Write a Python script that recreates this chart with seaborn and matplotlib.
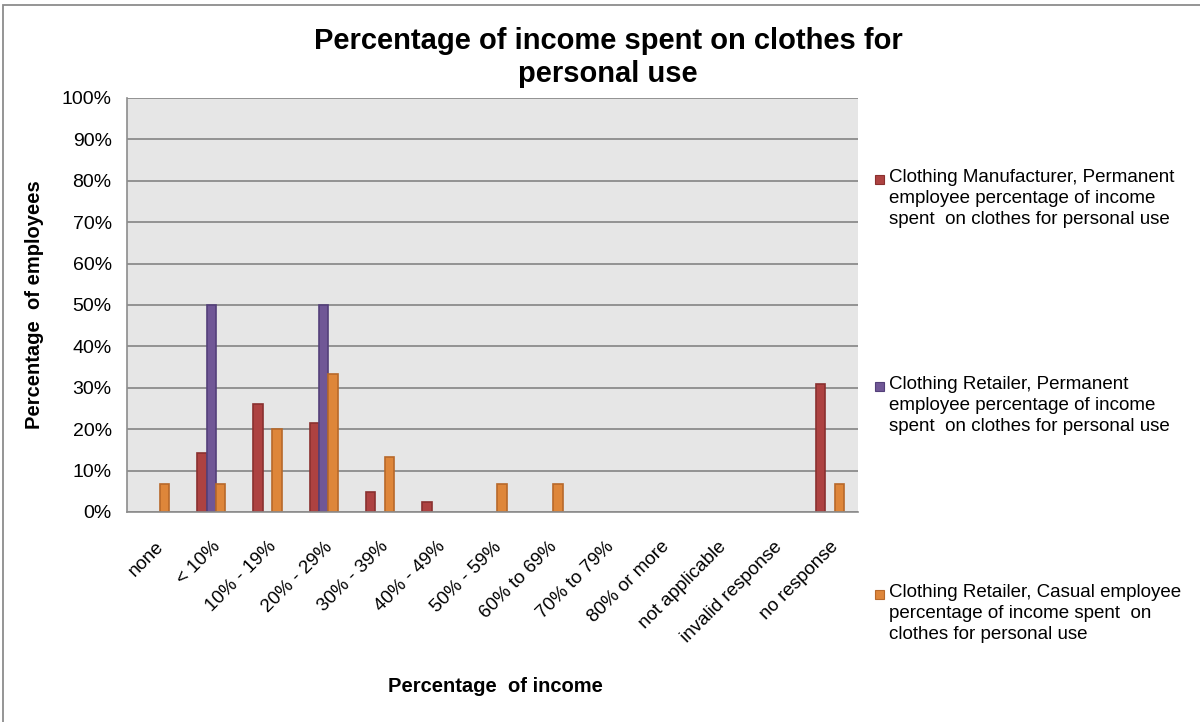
import numpy as np
import pandas as pd
import seaborn as sns
import matplotlib.pyplot as plt
import matplotlib.transforms as mtransforms
from matplotlib.patches import Rectangle

# ---- data -------------------------------------------------------------
categories = ["none", "< 10%", "10% - 19%", "20% - 29%", "30% - 39%",
              "40% - 49%", "50% - 59%", "60% to 69%", "70% to 79%",
              "80% or more", "not applicable", "invalid response", "no response"]

manufacturer_permanent = [0, 14.3, 26.2, 21.4, 4.8, 2.4, 0, 0, 0, 0, 0, 0, 31.0]
retailer_permanent = [0, 50.0, 0, 50.0, 0, 0, 0, 0, 0, 0, 0, 0, 0]
retailer_casual = [6.7, 6.7, 20.0, 33.3, 13.3, 0, 6.7, 6.7, 0, 0, 0, 0, 6.7]

series_names = [
    "Clothing Manufacturer, Permanent\nemployee percentage of income\nspent  on clothes for personal use",
    "Clothing Retailer, Permanent\nemployee percentage of income\nspent  on clothes for personal use",
    "Clothing Retailer, Casual employee\npercentage of income spent  on\nclothes for personal use",
]
y_ticks = [0, 10, 20, 30, 40, 50, 60, 70, 80, 90, 100]

fill_colors = ["#AD4241", "#705796", "#DE863A"]
edge_colors = ["#8A302F", "#54407A", "#B8692A"]

# ---- long table ---------------------------------------------------------
rows = []
for name, vals in zip(series_names, [manufacturer_permanent, retailer_permanent, retailer_casual]):
    for cat, v in zip(categories, vals):
        rows.append({"category": cat, "series": name, "value": v})
df = pd.DataFrame(rows)

sns.set_style("white")
plt.rcParams["font.family"] = ["Liberation Sans", "DejaVu Sans"]
for key in ["text.color", "axes.labelcolor", "xtick.labelcolor", "ytick.labelcolor"]:
    plt.rcParams[key] = "black"

fig = plt.figure(figsize=(12, 7.22), dpi=100)
ax = fig.add_axes([0.1058, 0.2909, 0.715 - 0.1058, 0.8643 - 0.2909])
ax.set_facecolor("#E6E6E6")

sns.barplot(data=df, x="category", y="value", hue="series",
            order=categories, hue_order=series_names, palette=fill_colors,
            width=0.5, legend=False, ax=ax, linewidth=1.2, saturation=1)

for cont, ec in zip(ax.containers, edge_colors):
    for bar in cont:
        bar.set_edgecolor(ec)
        if bar.get_height() == 0:
            bar.set_visible(False)

ax.set_xlim(-0.5, len(categories) - 0.5)
ax.set_ylim(0, 100)
ax.set_yticks(y_ticks)
ax.set_yticklabels([f"{t}%" for t in y_ticks], fontsize=14)
ax.yaxis.grid(True, color="#8C8C8C", linewidth=1.3)
ax.set_axisbelow(True)

# category boundaries carry the x tick marks
ax.set_xticks(np.arange(len(categories)))
ax.set_xticklabels(categories, rotation=45, ha="right", rotation_mode="anchor", fontsize=13.5)
shift = mtransforms.ScaledTranslation(-5 / 100, 0, fig.dpi_scale_trans)
for lbl in ax.get_xticklabels():
    lbl.set_transform(lbl.get_transform() + shift)
ax.set_xticks(np.arange(-0.5, len(categories)), minor=True)
ax.tick_params(axis="x", which="major", length=0, pad=19)
ax.tick_params(axis="x", which="minor", length=6, width=1.2, color="#8C8C8C", direction="out")
ax.tick_params(axis="y", length=5, width=1.2, color="#8C8C8C", direction="out", pad=6)

for side in ["top", "right"]:
    ax.spines[side].set_visible(False)
for side in ["left", "bottom"]:
    ax.spines[side].set_color("#8C8C8C")
    ax.spines[side].set_linewidth(1.2)

ax.set_xlabel("Percentage  of income", fontsize=14.5, fontweight="bold")
ax.set_ylabel("Percentage  of employees", fontsize=14.5, fontweight="bold")
ax.xaxis.set_label_coords((495 - 127) / (858 - 127), -(677 - 512) / (512 - 98))
ax.yaxis.set_label_coords(-(127 - 44) / (858 - 127), 0.5)

fig.text(608 / 1200, 1 - 27 / 722,
         "Percentage of income spent on clothes for\npersonal use",
         ha="center", va="top", fontsize=21, fontweight="bold", linespacing=1.25)

# legend: square swatch aligned with the first line of each entry
legend_tops = [169, 376, 584]
for name, fc, ec, top in zip(series_names, fill_colors, edge_colors, legend_tops):
    fig.patches.append(Rectangle((875 / 1200, 1 - (top + 15) / 722), 9 / 1200, 9 / 722,
                                 transform=fig.transFigure, facecolor=fc, edgecolor=ec,
                                 linewidth=0.8))
    fig.text(889 / 1200, 1 - top / 722, name, ha="left", va="top",
             fontsize=13.5, linespacing=1.3)

# outer chart frame
fig.patches.append(Rectangle((3 / 1200, -0.05), 1.1, 1 - 5 / 722 + 0.05,
                             transform=fig.transFigure, fill=False,
                             edgecolor="#8C8C8C", linewidth=1.3))

fig.savefig("out.png", dpi=100)
